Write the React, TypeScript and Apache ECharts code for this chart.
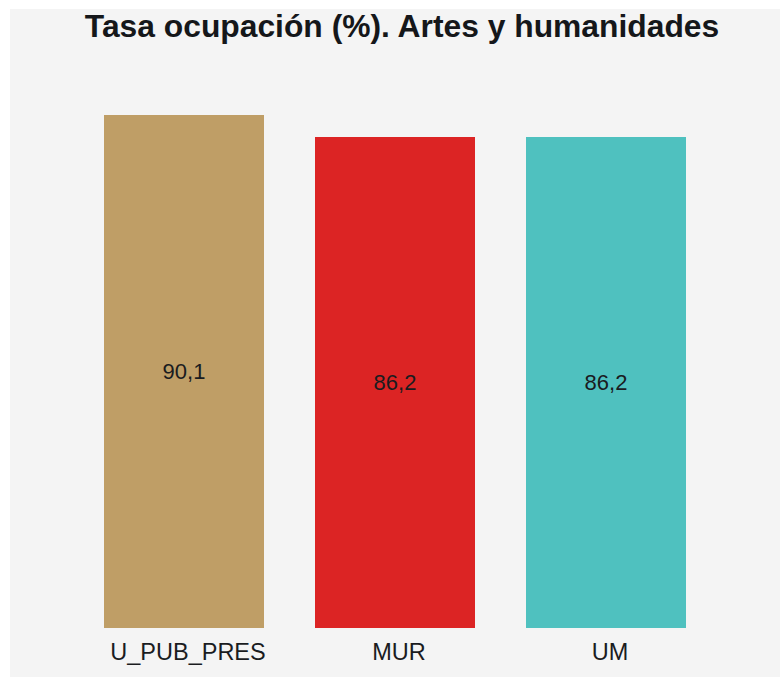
import React, { useEffect, useRef } from "react";
import * as echarts from "echarts";

const categories = ["U_PUB_PRES", "MUR", "UM"];
const values = [90.1, 86.2, 86.2];
const barColors = ["#bf9e66", "#dc2424", "#4fc1bf"];
const titleText = "Tasa ocupación (%). Artes y humanidades";

export default function App() {
  const ref = useRef<HTMLDivElement>(null);
  useEffect(() => {
    if (!ref.current) return;
    const chart = echarts.init(ref.current, undefined, { renderer: "svg" });
    chart.setOption({
      animation: false,
      backgroundColor: "#f4f4f4",
      textStyle: { fontFamily: "Liberation Sans, Arial, sans-serif" },
      title: {
        text: titleText,
        left: 387,
        top: -4.5,
        textAlign: "center",
        textStyle: { fontSize: 31.8, fontWeight: "bold", color: "#15171a", fontFamily: "Liberation Sans, Arial, sans-serif" },
      },
      grid: { left: 68.5, right: 68.5, top: 49.5, bottom: 49 },
      xAxis: {
        type: "category",
        data: categories,
        axisLine: { show: false },
        axisTick: { show: false },
        axisLabel: { fontSize: 23.5, color: "#1a1c1f", margin: 12, padding: [0, 0, 0, 8] },
      },
      yAxis: {
        type: "value",
        min: 0,
        max: 100,
        show: false,
        splitLine: { show: false },
      },
      series: [
        {
          type: "bar",
          barWidth: 160,
          data: values.map((v, i) => ({ value: v, itemStyle: { color: barColors[i] } })),
          label: {
            show: true,
            position: "inside",
            fontSize: 22,
            color: "#1a1c1f",
            formatter: (p: any) => String(p.value).replace(".", ","),
          },
        },
      ],
    });
    return () => chart.dispose();
  }, []);
  return (
    <div
      ref={ref}
      style={{ position: "absolute", left: 10, top: 9, width: 770, height: 668 }}
    />
  );
}
